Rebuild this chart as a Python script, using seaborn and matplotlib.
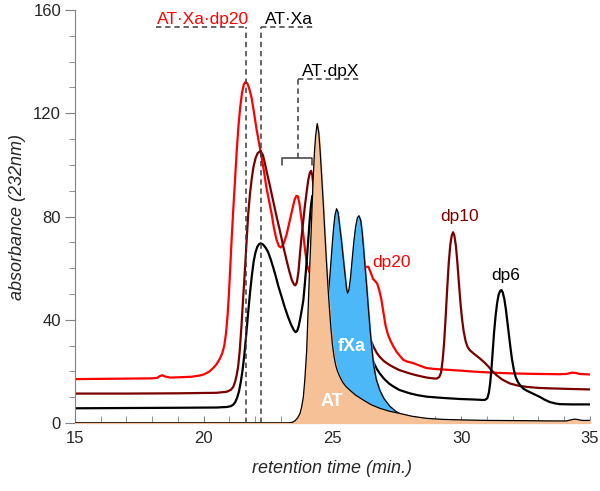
import numpy as np
import pandas as pd
import seaborn as sns
import matplotlib.pyplot as plt
from matplotlib.ticker import MultipleLocator

# retention time (min) / absorbance
red_t = [15.0, 16.0, 17.0, 18.0, 18.2, 18.3, 18.4, 18.5, 18.7, 19.0, 19.5, 19.8, 20.0, 20.2,
         20.36, 20.5, 20.62, 20.72, 20.8, 20.87, 20.93, 20.98, 21.03, 21.09, 21.15, 21.21, 21.28,
         21.35, 21.42, 21.49, 21.56, 21.63, 21.7, 21.77, 21.86, 21.95, 22.05, 22.15, 22.25, 22.35,
         22.44, 22.54, 22.64, 22.73, 22.83, 22.92, 23.0, 23.08, 23.15, 23.22, 23.3, 23.38, 23.46,
         23.53, 23.6, 23.66, 23.72, 23.8, 23.87, 23.95, 24.02, 24.1, 24.2, 24.5, 25.0, 25.5,
         25.9, 26.2, 26.3, 26.4, 26.5, 26.58, 26.66, 26.74, 26.82, 26.9, 26.98, 27.06, 27.15,
         27.25, 27.36, 27.5, 27.62, 27.75, 27.9, 28.14, 28.4, 28.65, 29.0, 29.5, 29.95, 30.5,
         31.23, 32.0, 33.0, 33.83, 34.1, 34.3, 34.45, 34.6, 35.0]
red_a = [17.0, 17.1, 17.2, 17.3, 17.5, 18.2, 18.5, 18.0, 17.6, 17.7, 17.9, 18.3, 18.8, 19.8,
         21.2, 22.8, 24.8, 27.0, 30.0, 35.0, 42.0, 50.0, 60.0, 72.0, 83.0, 93.0, 105.0,
         115.0, 122.5, 128.0, 131.2, 132.2, 131.5, 129.5, 126.0, 120.5, 114.0, 108.5, 103.0, 97.0,
         91.0, 86.0, 81.0, 75.5, 71.0, 68.5, 68.0, 69.0, 70.8, 73.0, 76.5, 80.0, 83.5,
         86.5, 88.0, 87.8, 85.0, 79.0, 73.0, 66.0, 61.0, 58.5, 57.0, 52.0, 47.0, 46.0,
         52.0, 59.0, 60.5, 60.5, 58.0, 55.8, 55.0, 54.0, 51.5, 48.0, 43.0, 38.0, 34.5,
         32.0, 29.8, 27.5, 26.0, 24.5, 23.8, 23.2, 22.2, 21.3, 20.9, 20.6, 20.3, 19.9,
         19.5, 19.2, 19.0, 18.9, 19.0, 19.5, 19.4, 19.0, 18.8]

dkred_t = [15.0, 17.0, 19.0, 20.5, 20.89, 21.05, 21.15, 21.22, 21.28, 21.34, 21.4, 21.47, 21.53,
           21.6, 21.67, 21.73, 21.8, 21.87, 21.94, 22.02, 22.1, 22.21, 22.3, 22.37, 22.44, 22.57,
           22.7, 22.83, 22.96, 23.09, 23.22, 23.32, 23.42, 23.5, 23.56, 23.62, 23.68, 23.74, 23.8,
           23.87, 23.93, 24.0, 24.06, 24.12, 24.17, 24.22, 24.28, 24.35, 24.45, 24.6, 24.85, 25.2,
           25.6, 26.0, 26.33, 26.45, 26.6, 26.72, 26.84, 27.0, 27.2, 27.36, 27.6, 28.0, 28.3,
           28.66, 28.9, 29.05, 29.15, 29.22, 29.28, 29.34, 29.4, 29.46, 29.52, 29.58, 29.64, 29.69,
           29.74, 29.8, 29.86, 29.92, 29.98, 30.04, 30.1, 30.18, 30.26, 30.34, 30.5, 30.73, 30.9,
           31.05, 31.2, 31.38, 31.6, 31.9, 32.2, 32.54, 33.0, 33.5, 34.2, 35.0]
dkred_a = [11.4, 11.4, 11.5, 11.7, 12.1, 12.8, 14.0, 16.0, 18.5, 22.0, 28.0, 38.0, 48.0,
           59.0, 71.0, 81.0, 89.0, 95.0, 99.5, 102.8, 104.6, 105.4, 103.8, 101.0, 97.7, 92.0,
           86.0, 80.0, 74.5, 68.5, 63.0, 59.0, 55.5, 53.8, 53.3, 54.5, 58.5, 65.5, 72.0,
           78.5, 84.0, 89.5, 94.0, 96.8, 97.7, 96.0, 90.0, 82.0, 72.0, 62.0, 51.0, 46.0,
           43.0, 40.0, 37.0, 33.0, 29.5, 27.2, 25.6, 24.0, 22.6, 21.7, 20.5, 19.2, 18.4,
           17.6, 17.3, 17.2, 17.8, 19.5, 24.0, 31.0, 41.0, 52.0, 62.0, 69.0, 72.8, 73.9,
           72.5, 68.5, 61.5, 53.5, 46.0, 40.0, 35.5, 31.5, 29.3, 28.2, 26.8, 25.0, 23.5,
           22.0, 20.2, 18.5, 16.8, 15.3, 14.5, 14.0, 13.6, 13.4, 13.2, 13.0]

black_t = [15.0, 17.0, 19.0, 20.5, 20.9, 21.05, 21.15, 21.22, 21.3, 21.37, 21.44, 21.51, 21.58,
           21.65, 21.72, 21.8, 21.87, 21.94, 22.01, 22.08, 22.15, 22.22, 22.3, 22.4, 22.5, 22.6,
           22.7, 22.8, 22.9, 23.03, 23.15, 23.28, 23.4, 23.5, 23.57, 23.63, 23.69, 23.75, 23.81,
           23.87, 23.93, 24.0, 24.06, 24.12, 24.17, 24.22, 24.3, 24.4, 24.5, 24.8, 25.2, 25.6,
           26.0, 26.46, 26.6, 26.72, 26.84, 27.0, 27.2, 27.36, 27.6, 28.0, 28.3, 28.66, 29.3,
           29.95, 30.5, 30.92, 31.02, 31.08, 31.13, 31.18, 31.23, 31.28, 31.34, 31.4, 31.46, 31.52,
           31.57, 31.62, 31.68, 31.74, 31.8, 31.86, 31.92, 31.98, 32.05, 32.12, 32.2, 32.3, 32.42,
           32.54, 32.7, 32.85, 33.06, 33.25, 33.45, 33.65, 33.83, 34.3, 35.0]
black_a = [5.7, 5.8, 5.9, 6.0, 6.2, 6.5, 7.1, 8.0, 9.8, 12.2, 15.8, 20.5, 26.5,
           34.0, 42.0, 50.5, 57.0, 62.5, 66.0, 68.2, 69.3, 69.6, 69.2, 68.0, 66.3, 63.5,
           60.3, 56.8, 53.0, 48.8, 44.8, 41.0, 38.0, 36.0, 35.2, 35.6, 37.5, 40.5, 43.8,
           47.5, 54.0, 62.5, 70.7, 79.0, 84.5, 88.0, 88.0, 81.0, 74.0, 55.0, 42.0, 37.0,
           32.0, 27.0, 23.5, 21.0, 19.2, 17.2, 15.3, 14.2, 12.8, 11.5, 10.8, 10.2, 9.7,
           9.3, 9.1, 8.9, 9.6, 11.8, 15.5, 21.0, 28.0, 35.0, 41.5, 46.5, 49.8, 51.2,
           51.5, 50.5, 48.0, 44.0, 39.0, 34.0, 29.0, 24.5, 20.6, 17.8, 16.0, 14.5, 13.3,
           12.6, 11.8, 11.1, 10.1, 9.0, 8.1, 7.6, 7.3, 7.2, 7.2]

at_t = [15.0, 23.3, 23.45, 23.55, 23.65, 23.74, 23.8, 23.87, 23.93, 24.0, 24.05, 24.1, 24.15,
        24.2, 24.25, 24.3, 24.35, 24.41, 24.47, 24.52, 24.58, 24.64, 24.7, 24.76, 24.82, 24.88,
        24.94, 25.0, 25.06, 25.13, 25.2, 25.29, 25.4, 25.52, 25.68, 25.9, 26.2, 26.5, 26.84,
        27.2, 27.62, 28.1, 28.66, 29.3, 30.0, 31.0, 32.5, 33.5, 34.09, 34.3, 34.42, 34.55,
        34.7, 35.0]
at_a = [0.0, 0.0, 0.3, 0.9, 2.0, 3.7, 6.0, 10.0, 17.0, 28.0, 42.0, 56.0, 68.0,
        81.0, 94.0, 104.5, 111.5, 116.0, 112.5, 106.0, 96.0, 86.0, 75.0, 64.0, 54.0, 45.0,
        37.0, 30.5, 26.0, 22.3, 20.0, 17.9, 15.8, 14.2, 12.7, 10.8, 8.9, 7.1, 5.7,
        4.6, 3.7, 2.6, 1.8, 1.4, 1.2, 1.0, 0.9, 0.8, 0.8, 1.3, 1.5, 1.3,
        1.0, 1.0]

fxa_t = [15.0, 24.3, 24.5, 24.65, 24.75, 24.82, 24.88, 24.94, 25.0, 25.05, 25.1, 25.16, 25.22,
         25.28, 25.35, 25.42, 25.49, 25.55, 25.59, 25.64, 25.7, 25.76, 25.83, 25.9, 25.97, 26.03,
         26.1, 26.16, 26.22, 26.28, 26.33, 26.4, 26.46, 26.53, 26.6, 26.7, 26.84, 27.0, 27.23,
         27.45, 27.62, 27.85, 28.1, 28.4, 28.7, 29.0, 29.3, 35.0]
fxa_a = [0.0, 0.0, 10.0, 25.0, 36.0, 46.0, 54.0, 62.0, 70.0, 76.0, 80.5, 83.0, 81.5,
         76.5, 70.7, 64.0, 57.5, 52.0, 50.3, 51.5, 56.0, 62.5, 70.0, 76.0, 79.5, 80.3,
         78.5, 73.5, 66.5, 59.0, 53.0, 44.0, 36.5, 29.0, 22.5, 17.0, 12.7, 9.5, 6.5,
         4.6, 3.6, 2.8, 2.4, 1.9, 1.4, 0.9, 0.5, 0.0]

complex_times = [21.64, 22.22, 23.65]   # AT·Xa·dp20, AT·Xa, AT·dpX

sns.set_style("ticks")
plt.rcParams['font.family'] = ['Liberation Sans', 'DejaVu Sans']

fig, ax = plt.subplots(figsize=(6, 4.91), dpi=100)
fig.subplots_adjust(left=0.125, right=0.983, bottom=0.1385, top=0.9796)

for t, a, c in [(red_t, red_a, '#ff0000'), (dkred_t, dkred_a, '#7a0000'), (black_t, black_a, 'black')]:
    df = pd.DataFrame({'t': t, 'a': a})
    sns.lineplot(data=df, x='t', y='a', color=c, lw=1.6, sort=False, estimator=None, ax=ax, zorder=2)

ax.fill_between(fxa_t, fxa_a, color='#4db8f7', zorder=3)
ax.plot(fxa_t, fxa_a, color='black', lw=0.9, zorder=3)
ax.fill_between(at_t, at_a, color='#f6c196', zorder=4)
ax.plot(at_t, at_a, color='black', lw=0.9, zorder=4)

# annotations
dash = dict(color='#3c3c3c', lw=1.1, ls=(0, (3.5, 2.5)), zorder=5)
ax.plot([complex_times[0]] * 2, [0, 153.3], **dash)
ax.plot([18.15, complex_times[0]], [153.3, 153.3], **dash)
ax.plot([complex_times[1]] * 2, [0, 153.3], **dash)
ax.plot([complex_times[1], 24.32], [153.3, 153.3], **dash)
ax.plot([complex_times[2]] * 2, [102.7, 133.1], **dash)
ax.plot([complex_times[2], 26.03], [133.1, 133.1], **dash)
ax.plot([23.05, 23.05, 24.19, 24.19], [99.9, 102.7, 102.7, 99.9], color='#3c3c3c', lw=1.1, zorder=5)

ax.text(18.2, 154.6, 'AT·Xa·dp20', color='#ff0000', fontsize=12.5, va='baseline')
ax.text(22.38, 154.6, 'AT·Xa', color='black', fontsize=12.5, va='baseline')
ax.text(23.82, 134.3, 'AT·dpX', color='black', fontsize=12.5, va='baseline')
ax.text(26.53, 62, 'dp20', color='#ff0000', fontsize=12.5, va='center')
ax.text(29.95, 80, 'dp10', color='#7a0000', fontsize=12.5, va='center', ha='center')
ax.text(31.73, 57, 'dp6', color='black', fontsize=12.5, va='center', ha='center')
ax.text(25.76, 29.7, 'fXa', color='white', fontsize=13, fontweight='bold', va='center', ha='center', zorder=6)
ax.text(25.0, 8.5, 'AT', color='white', fontsize=13, fontweight='bold', va='center', ha='center', zorder=6)

ax.set_xlim(15, 35)
ax.set_ylim(0, 160)
ax.xaxis.set_major_locator(MultipleLocator(5))
ax.xaxis.set_minor_locator(MultipleLocator(1))
ax.yaxis.set_major_locator(MultipleLocator(40))
ax.yaxis.set_minor_locator(MultipleLocator(10))
ax.tick_params(axis='x', which='both', direction='in', length=5, color='#808080', labelsize=12, pad=6)
ax.tick_params(axis='y', which='major', direction='out', length=7, color='#808080', labelsize=12, pad=3)
ax.tick_params(axis='y', which='minor', direction='out', length=4, color='#808080')
sns.despine(ax=ax)
for s in ['left', 'bottom']:
    ax.spines[s].set_color('#808080')
ax.set_xlabel('retention time (min.)', fontsize=13, fontstyle='italic', labelpad=10)
ax.set_ylabel('absorbance (232nm)', fontsize=13, fontstyle='italic', labelpad=5)

fig.savefig('out.png', dpi=100)
